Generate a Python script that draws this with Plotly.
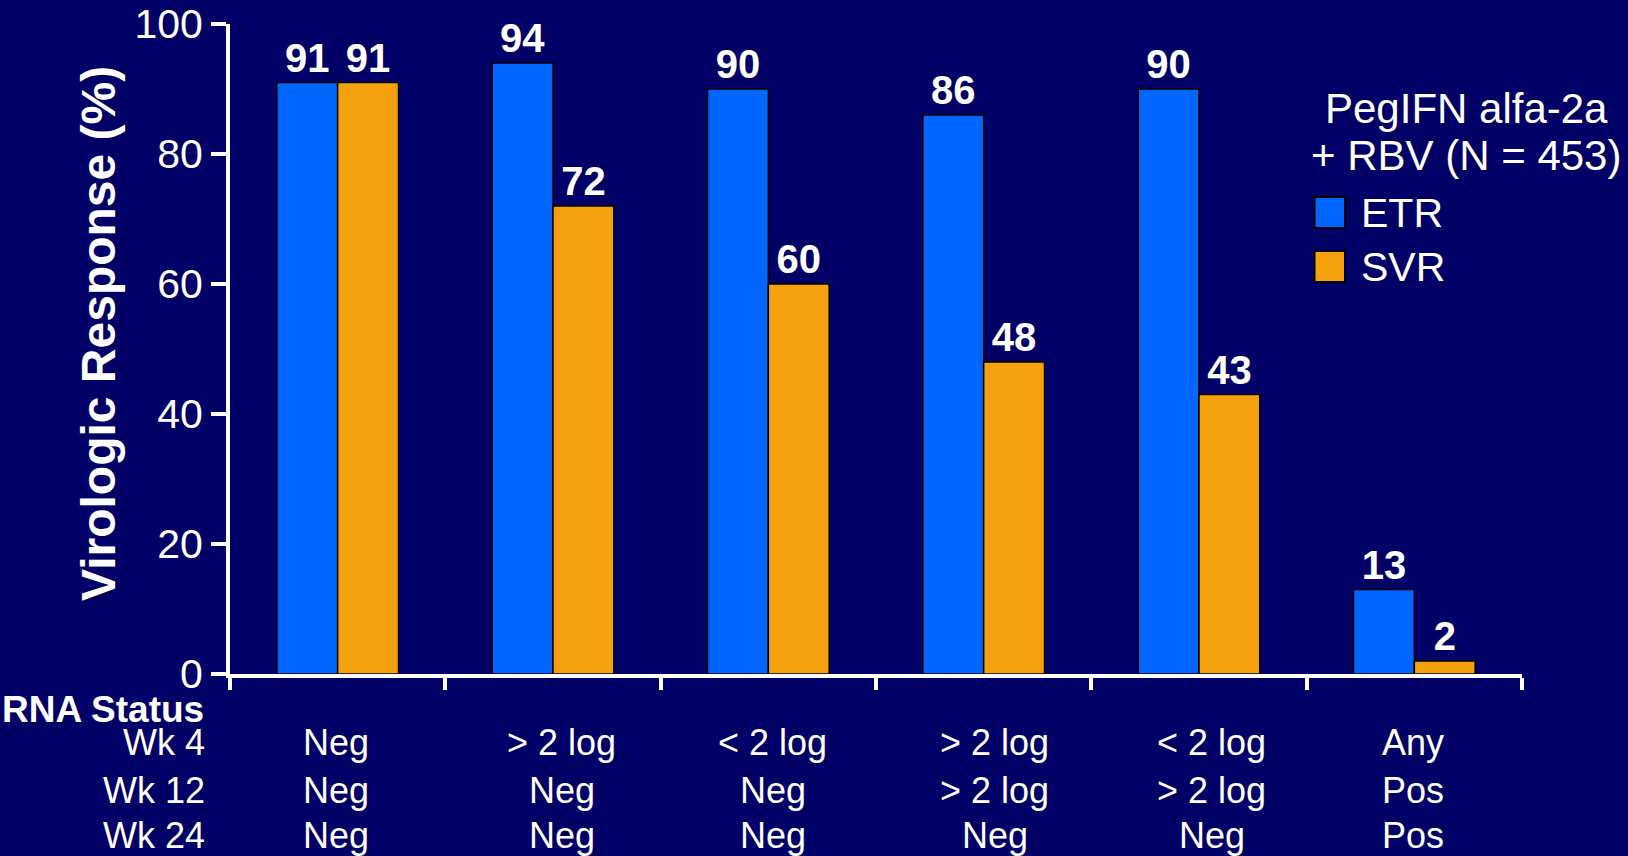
import plotly.graph_objects as go

# ---------------- data ----------------
wk4 = ["Neg", "> 2 log", "< 2 log", "> 2 log", "< 2 log", "Any"]
wk12 = ["Neg", "Neg", "Neg", "> 2 log", "> 2 log", "Pos"]
wk24 = ["Neg", "Neg", "Neg", "Neg", "Neg", "Pos"]
etr = [91, 94, 90, 86, 90, 13]
svr = [91, 72, 60, 48, 43, 2]
row_labels = ["Wk 4", "Wk 12", "Wk 24"]
y_ticks = [0, 20, 40, 60, 80, 100]
legend_title = ["PegIFN alfa-2a", "+ RBV (N = 453)"]
series_names = ["ETR", "SVR"]

categories = [f"{a}|{b}|{c}" for a, b, c in zip(wk4, wk12, wk24)]

# ---------------- style / layout ----------------
W, H = 1628, 856
L, R, T, B = 230, 106, 24, 182
BG = "#000066"
BLUE = "#0066FF"
ORANGE = "#F5A00F"
FONT = "Liberation Sans, Arial, sans-serif"
label_xshift = [-1.5, 8.5, 4.5, 11.3, 12.5, -1.5]
row_y_px = [743, 790, 835]

pw, ph = W - L - R, H - T - B


def px(xp):
    return (xp - L) / pw


def py(yp):
    return (H - B - yp) / ph


fig = go.Figure()
for name, vals, col in [(series_names[0], etr, BLUE), (series_names[1], svr, ORANGE)]:
    fig.add_trace(go.Bar(
        x=categories, y=vals, name=name,
        marker=dict(color=col, line=dict(color="black", width=1.5)),
        text=vals, texttemplate="%{y}", textposition="outside",
        textfont=dict(family=FONT, size=40, color="white", weight="bold"),
        cliponaxis=False, showlegend=False,
    ))

annotations = []
shapes = []

# y-axis title
annotations.append(dict(
    text="Virologic Response (%)", xref="paper", yref="paper",
    x=px(98), y=py(334), xanchor="center", yanchor="middle",
    textangle=-90, showarrow=False,
    font=dict(family=FONT, size=48, color="white", weight="bold"),
))

# RNA status header and row labels
annotations.append(dict(
    text="RNA Status", xref="paper", yref="paper",
    x=px(206), y=py(709), xanchor="right", yanchor="middle", showarrow=False,
    font=dict(family=FONT, size=37, color="white", weight="bold"),
))
for lab, yp in zip(row_labels, row_y_px):
    annotations.append(dict(
        text=lab, xref="paper", yref="paper",
        x=px(207), y=py(yp), xanchor="right", yanchor="middle", showarrow=False,
        font=dict(family=FONT, size=36, color="white"),
    ))

# category labels
for i, cat in enumerate(categories):
    for row, yp in zip([wk4, wk12, wk24], row_y_px):
        annotations.append(dict(
            text=row[i], xref="x", yref="paper",
            x=cat, xshift=label_xshift[i], y=py(yp),
            xanchor="center", yanchor="middle", showarrow=False,
            font=dict(family=FONT, size=36, color="white"),
        ))

# legend (drawn manually for large swatches)
for txt, yp in zip(legend_title, [108, 156]):
    annotations.append(dict(
        text=txt, xref="paper", yref="paper",
        x=px(1466), y=py(yp), xanchor="center", yanchor="middle", showarrow=False,
        font=dict(family=FONT, size=42, color="white"),
    ))
for name, col, yc in [(series_names[0], BLUE, 212.5), (series_names[1], ORANGE, 266.5)]:
    shapes.append(dict(
        type="rect", xref="paper", yref="paper",
        x0=px(1314.5), x1=px(1345), y0=py(yc + 15.5), y1=py(yc - 15.5),
        fillcolor=col, line=dict(color="black", width=2),
    ))
    annotations.append(dict(
        text=name, xref="paper", yref="paper",
        x=px(1359), y=py(yc), xanchor="left", yanchor="middle", showarrow=False,
        font=dict(family=FONT, size=41, color="white"),
    ))

fig.update_layout(
    width=W, height=H,
    margin=dict(l=L, r=R, t=T, b=B, pad=0, autoexpand=False),
    paper_bgcolor=BG, plot_bgcolor=BG,
    barmode="group", bargap=0.435, bargroupgap=0,
    font=dict(family=FONT, color="white"),
    annotations=annotations, shapes=shapes,
    showlegend=False,
    uniformtext=dict(mode=False),
)
fig.update_xaxes(
    type="category", range=[-0.5, len(categories) - 0.5], automargin=False,
    showticklabels=False, showgrid=False, zeroline=False,
    showline=True, linecolor="white", linewidth=4,
    ticks="outside", tickson="boundaries", ticklen=12, tickwidth=4, tickcolor="white",
)
fig.update_yaxes(
    range=[0, 100], tickvals=y_ticks, showgrid=False, zeroline=False, automargin=False,
    showline=True, linecolor="white", linewidth=4,
    ticks="outside", ticklen=15, tickwidth=4, tickcolor="white",
    tickfont=dict(family=FONT, size=41, color="white"),
)

fig.write_html("out.html")
